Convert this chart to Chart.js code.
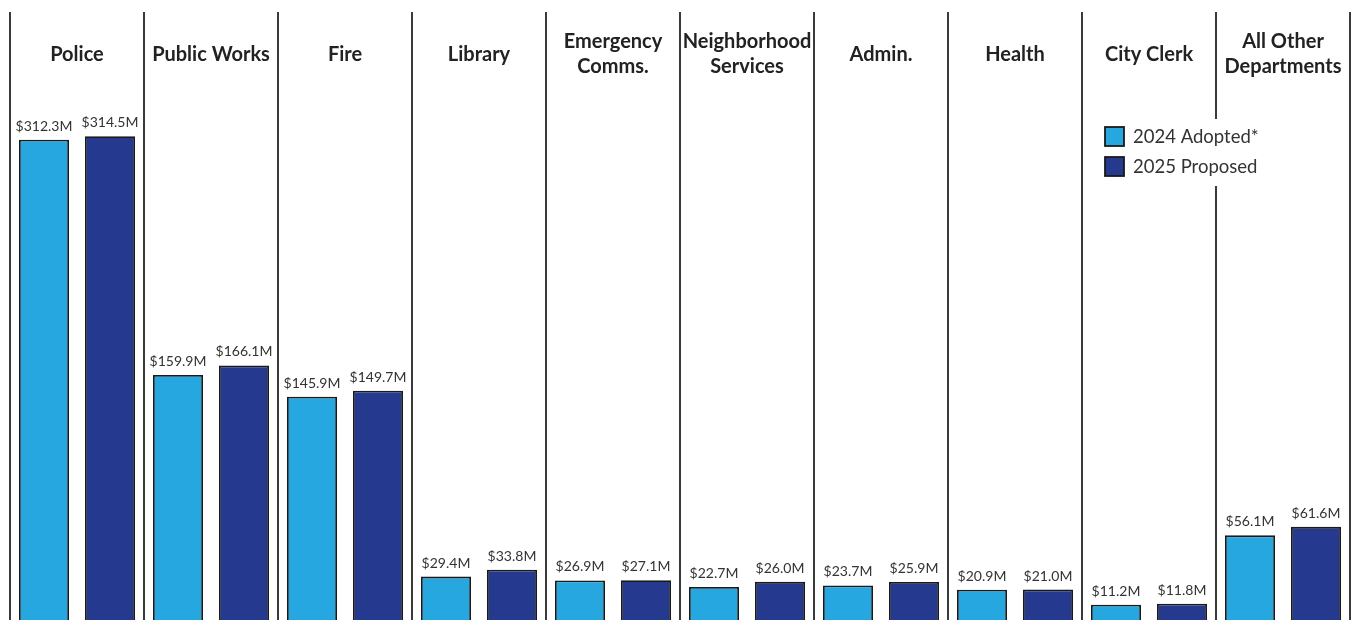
<!DOCTYPE html>
<html>
<head>
  <title>Department Budgets</title>
  <script src="https://cdn.jsdelivr.net/npm/chart.js"></script>
  <style>
    html, body { margin: 0; padding: 0; background: #fff; overflow: hidden; }
    #wrap { position: relative; width: 1354px; height: 640px; }
  </style>
</head>
<body>
  <div id="wrap"><canvas id="budgetChart"></canvas></div>

  <script>
    const departments = [
      ["Police"], ["Public Works"], ["Fire"], ["Library"], ["Emergency", "Comms."],
      ["Neighborhood", "Services"], ["Admin."], ["Health"], ["City Clerk"], ["All Other", "Departments"]
    ];
    const adopted2024 = [312.3, 159.9, 145.9, 29.4, 26.9, 22.7, 23.7, 20.9, 11.2, 56.1];
    const proposed2025 = [314.5, 166.1, 149.7, 33.8, 27.1, 26.0, 25.9, 21.0, 11.8, 61.6];
    const seriesNames = ["2024 Adopted*", "2025 Proposed"];
    const seriesColors = ["#27a7df", "#253a8e"];

    const FONT = "Lato, 'Open Sans', sans-serif";

    // department names across the top of each panel
    const headerPlugin = {
      id: "headers",
      afterDraw(chart) {
        const ctx = chart.ctx;
        const x = chart.scales.x;
        ctx.save();
        ctx.fillStyle = "#222";
        ctx.font = "bold 20px " + FONT;
        ctx.textAlign = "center";
        ctx.textBaseline = "middle";
        departments.forEach((lines, i) => {
          const cx = x.getPixelForValue(i);
          if (lines.length === 1) {
            ctx.fillText(lines[0], cx, 55);
          } else {
            ctx.fillText(lines[0], cx, 42);
            ctx.fillText(lines[1], cx, 67);
          }
        });
        ctx.restore();
      }
    };

    // dollar labels above each bar
    const valueLabels = {
      id: "valueLabels",
      afterDatasetsDraw(chart) {
        const ctx = chart.ctx;
        ctx.save();
        ctx.fillStyle = "#333";
        ctx.font = "14px " + FONT;
        ctx.textAlign = "center";
        ctx.textBaseline = "alphabetic";
        chart.data.datasets.forEach((ds, di) => {
          chart.getDatasetMeta(di).data.forEach((bar, i) => {
            ctx.fillText("$" + ds.data[i].toFixed(1) + "M", bar.x, bar.y - 9);
          });
        });
        ctx.restore();
      }
    };

    // legend box sitting over the last panel divider
    const legendBox = {
      id: "legendBox",
      afterDraw(chart) {
        const ctx = chart.ctx;
        ctx.save();
        ctx.fillStyle = "#fff";
        ctx.fillRect(1098, 119, 170, 67);
        ctx.font = "18.5px " + FONT;
        ctx.textBaseline = "middle";
        seriesNames.forEach((name, i) => {
          const y = 127 + i * 30;
          ctx.fillStyle = seriesColors[i];
          ctx.fillRect(1105, y, 19, 19);
          ctx.strokeStyle = "#1a1a1a";
          ctx.lineWidth = 1.8;
          ctx.strokeRect(1105, y, 19, 19);
          ctx.fillStyle = "#333";
          ctx.fillText(name, 1133, y + 10);
        });
        ctx.restore();
      }
    };

    new Chart(document.getElementById("budgetChart"), {
      type: "bar",
      data: {
        labels: departments.map(d => d.join(" ")),
        datasets: [
          { label: seriesNames[0], data: adopted2024, backgroundColor: seriesColors[0] },
          { label: seriesNames[1], data: proposed2025, backgroundColor: seriesColors[1] }
        ]
      },
      options: {
        responsive: true,
        maintainAspectRatio: false,
        animation: false,
        layout: { padding: { left: 10, right: 4, top: 12, bottom: 18 } },
        datasets: {
          bar: {
            borderColor: "#1a1a1a",
            borderWidth: 1.8,
            categoryPercentage: 0.985,
            barPercentage: 0.758
          }
        },
        plugins: { legend: { display: false }, tooltip: { enabled: false } },
        scales: {
          x: {
            ticks: { display: false },
            border: { display: false },
            grid: { offset: true, color: "#3a3a3a", lineWidth: 2, drawTicks: false }
          },
          y: { display: false, min: 0, max: 395 }
        }
      },
      plugins: [headerPlugin, valueLabels, legendBox]
    });
  </script>
</body>
</html>
